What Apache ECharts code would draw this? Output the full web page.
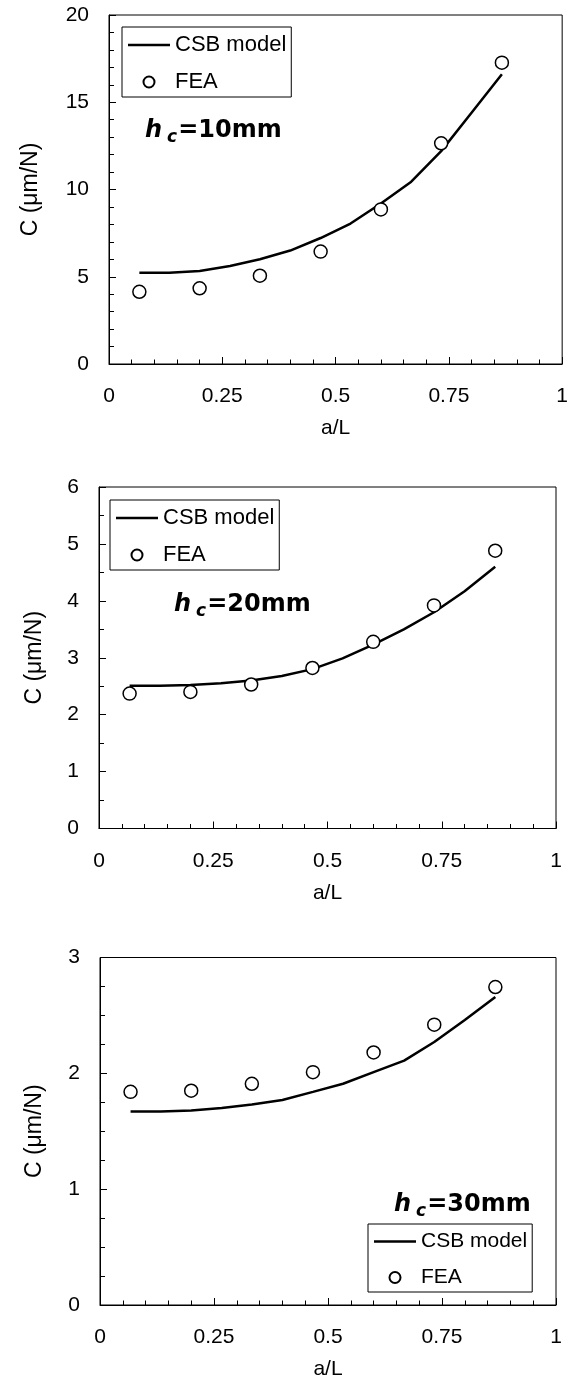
<!DOCTYPE html>
<html>
<head>
<meta charset="utf-8">
<script src="https://cdn.jsdelivr.net/npm/echarts@6/dist/echarts.min.js"></script>
<style>
html,body{margin:0;padding:0;background:#fff;}
#chart{width:571px;height:1385px;}
</style>
</head>
<body>
<div id="chart"></div>
<script>
// a/L positions of the FEA points and the CSB model curve
const feaAL = [0.067, 0.2, 0.333, 0.467, 0.6, 0.733, 0.867];
const csbAL = [0.067, 0.133, 0.2, 0.267, 0.333, 0.4, 0.467, 0.533, 0.6, 0.667, 0.733, 0.8, 0.867];

// h_c = 10 mm
const fea10 = [4.14, 4.34, 5.06, 6.44, 8.86, 12.65, 17.27];
const csb10 = [5.23, 5.23, 5.33, 5.62, 6.0, 6.5, 7.22, 8.05, 9.2, 10.45, 12.2, 14.4, 16.6];
// h_c = 20 mm
const fea20 = [2.37, 2.40, 2.53, 2.82, 3.28, 3.92, 4.88];
const csb20 = [2.51, 2.51, 2.52, 2.55, 2.60, 2.68, 2.80, 2.99, 3.23, 3.50, 3.80, 4.17, 4.60];
// h_c = 30 mm
const fea30 = [1.84, 1.85, 1.91, 2.01, 2.18, 2.42, 2.745];
const csb30 = [1.67, 1.67, 1.68, 1.70, 1.73, 1.77, 1.84, 1.91, 2.01, 2.11, 2.27, 2.46, 2.66];

const xTicks = [0, 0.25, 0.5, 0.75, 1];
const yMax = [20, 6, 3];
const yInterval = [5, 1, 1];
const yMinorSplit = [5, 2, 4];
const panelLabels = ['10mm', '20mm', '30mm'];
const seriesNames = ['CSB model', 'FEA'];

const FONT = '"Liberation Sans", Arial, sans-serif';
const grids = [
  {left: 109, top: 15, width: 456, height: 349},
  {left: 99, top: 487, width: 457, height: 341.5},
  {left: 100, top: 957.5, width: 456, height: 347.5}
];
const yNameGap = [67, 53, 54];
const legendPos = [
  {left: 122, top: 27, fontSize: 22},
  {left: 110, top: 500, fontSize: 22},
  {left: 368, top: 1224, fontSize: 21}
];
const labelPos = [
  {left: 145, top: 116},
  {left: 174, top: 590},
  {left: 394, top: 1190}
];

const csbSets = [csb10, csb20, csb30];
const feaSets = [fea10, fea20, fea30];

const option = {
  animation: false,
  backgroundColor: '#fff',
  textStyle: {fontFamily: FONT, color: '#000'},
  grid: grids.map(g => Object.assign({show: true, borderColor: '#000', borderWidth: 1, backgroundColor: 'transparent'}, g)),
  xAxis: grids.map((g, i) => ({
    type: 'value', gridIndex: i, min: xTicks[0], max: xTicks[xTicks.length - 1], interval: 0.25,
    name: 'a/L', nameLocation: 'middle', nameGap: 54,
    nameTextStyle: {fontSize: 21, color: '#000', fontFamily: FONT},
    axisLine: {show: true, lineStyle: {color: '#000', width: 1}},
    axisTick: {show: true, inside: true, length: 7, lineStyle: {color: '#000', width: 1}},
    minorTick: {show: true, splitNumber: 5, length: 4.5, lineStyle: {color: '#000', width: 1}},
    axisLabel: {fontSize: 21, color: '#000', margin: 22, fontFamily: FONT},
    splitLine: {show: false}
  })),
  yAxis: grids.map((g, i) => ({
    type: 'value', gridIndex: i, min: 0, max: yMax[i], interval: yInterval[i],
    name: 'C (μm/N)', nameLocation: 'middle', nameGap: yNameGap[i],
    nameTextStyle: {fontSize: 23, color: '#000', fontFamily: FONT},
    axisLine: {show: true, lineStyle: {color: '#000', width: 1}},
    axisTick: {show: true, inside: true, length: 7, lineStyle: {color: '#000', width: 1}},
    minorTick: {show: true, splitNumber: yMinorSplit[i], length: 5, lineStyle: {color: '#000', width: 1}},
    axisLabel: {fontSize: 21, color: '#000', margin: 20, fontFamily: FONT},
    splitLine: {show: false}
  })),
  legend: legendPos.map(p => ({
    left: p.left, top: p.top, orient: 'vertical',
    data: [
      {name: seriesNames[0], icon: 'path://M0,0H42V2.6H0Z'},
      {name: seriesNames[1]}
    ],
    selectedMode: false,
    itemWidth: 42, itemHeight: 11, itemGap: 15,
    padding: [7, 5, 4, 6],
    borderColor: '#000', borderWidth: 1, backgroundColor: '#fff',
    textStyle: {fontSize: p.fontSize, color: '#000', fontFamily: FONT}
  })),
  title: labelPos.map((p, i) => ({
    left: p.left, top: p.top, padding: 0,
    text: '{i|h}{s|c}{b|=' + panelLabels[i] + '}',
    textStyle: {
      rich: {
        i: {fontFamily: '"DejaVu Sans", sans-serif', fontSize: 24, fontWeight: 'bold', fontStyle: 'italic', color: '#000', lineHeight: 30, verticalAlign: 'middle'},
        s: {fontFamily: '"DejaVu Sans", sans-serif', fontSize: 17, fontWeight: 'bold', fontStyle: 'italic', color: '#000', lineHeight: 18, verticalAlign: 'bottom', padding: [0, 1, 0, 5]},
        b: {fontFamily: '"DejaVu Sans", sans-serif', fontSize: 24, fontWeight: 'bold', color: '#000', lineHeight: 30, verticalAlign: 'middle'}
      }
    }
  })),
  series: []
};

for (let i = 0; i < 3; i++) {
  option.series.push({
    name: seriesNames[0], type: 'line', xAxisIndex: i, yAxisIndex: i,
    data: csbAL.map((x, k) => [x, csbSets[i][k]]),
    symbol: 'none', showSymbol: false, smooth: false,
    lineStyle: {color: '#000', width: 2.5}, itemStyle: {color: '#000'}, z: 2
  });
  option.series.push({
    name: seriesNames[1], type: 'scatter', xAxisIndex: i, yAxisIndex: i,
    data: feaAL.map((x, k) => [x, feaSets[i][k]]),
    symbol: 'circle', symbolSize: 13,
    itemStyle: {color: '#fff', borderColor: '#000', borderWidth: 1.5, opacity: 1}, z: 3
  });
}

const chart = echarts.init(document.getElementById('chart'), null, {renderer: 'canvas'});
chart.setOption(option);
</script>
</body>
</html>
